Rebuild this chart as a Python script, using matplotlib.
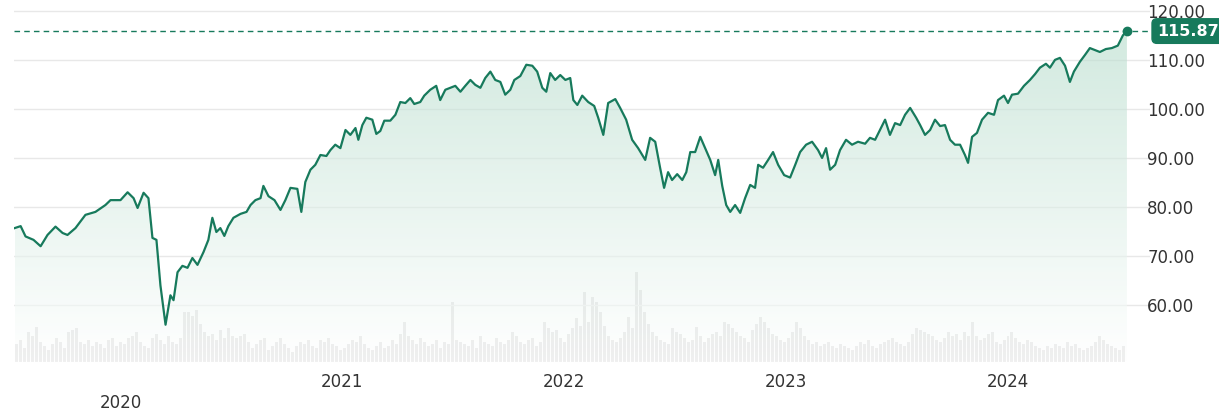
import matplotlib
matplotlib.use("Agg")
import matplotlib.pyplot as plt
import numpy as np
from matplotlib.patches import Polygon
from matplotlib.colors import LinearSegmentedColormap

px = [14,20,25,33,40,47,55,62,67,75,85,95,105,110,120,127,133,137,143,148,152,156,160,165,170,173,177,182,187,192,197,203,208,212,216,220,224,228,233,240,246,250,255,260,263,268,274,280,285,290,297,301,305,310,315,320,326,330,335,340,345,350,355,358,362,366,372,376,380,384,390,395,400,405,410,414,420,424,430,436,440,445,450,455,460,465,470,475,480,485,490,495,500,505,510,514,520,526,532,537,542,546,550,555,560,565,570,573,577,582,588,594,598,603,608,615,620,626,632,638,645,650,655,660,664,668,672,677,682,686,690,695,700,705,710,715,718,722,726,730,735,740,745,750,755,758,763,768,773,778,784,790,795,800,806,812,818,822,826,830,835,840,846,852,858,865,870,875,880,885,890,895,900,905,910,916,920,925,930,935,940,945,950,955,960,965,968,972,977,982,988,994,998,1004,1008,1012,1018,1024,1030,1035,1040,1046,1050,1055,1060,1065,1070,1074,1080,1085,1090,1095,1100,1106,1112,1118,1123,1127]
prices = [75.7,76.1,74,73.3,72,74.3,76,74.7,74.3,75.7,78.4,79,80.4,81.4,81.4,83,81.8,79.8,82.9,81.8,73.7,73.3,64,56,62,61,66.7,68,67.6,69.6,68.2,70.8,73.3,77.8,74.9,75.7,74.1,76.1,77.8,78.6,79,80.4,81.4,81.8,84.3,82.2,81.4,79.4,81.4,83.9,83.7,79,85.1,87.6,88.6,90.6,90.4,91.6,92.7,92,95.7,94.7,96.1,93.7,96.7,98.2,97.8,94.9,95.5,97.6,97.6,98.8,101.4,101.2,102.2,101,101.4,102.7,103.9,104.7,101.8,103.9,104.3,104.7,103.5,104.7,105.9,104.9,104.3,106.3,107.6,105.9,105.5,102.9,103.9,105.9,106.7,109,108.8,107.6,104.3,103.5,107.3,105.9,106.9,105.9,106.3,101.8,100.8,102.7,101.4,100.6,98.2,94.7,101.2,102,100.2,97.8,93.7,92,89.6,94.1,93.3,88,83.9,87.1,85.5,86.7,85.5,87.1,91.2,91.2,94.3,92,89.6,86.5,89.6,84.3,80.4,79,80.4,78.8,81.8,84.5,83.9,88.6,88,89.6,91.2,88.6,86.5,86,88.6,91.2,92.7,93.3,91.6,90,92,87.6,88.6,91.6,93.7,92.7,93.3,92.9,94.1,93.7,95.7,97.8,94.7,97.1,96.7,98.8,100.2,98.2,96.7,94.7,95.7,97.8,96.5,96.7,93.7,92.7,92.7,90.6,89,94.3,95.1,97.8,99.2,98.8,101.8,102.7,101.2,102.9,103.1,104.7,105.9,107.1,108.4,109.2,108.4,110,110.4,108.8,105.5,107.6,109.6,111,112.4,112,111.6,112.2,112.4,112.9,115,115.87]
years = [round(2021 + (x - 342) / 222, 3) for x in px]

vol_x = list(range(16, 1126, 4))
vol_base = [18,22,14,30,26,35,20,16,12,18,24,20,14,30,32,34,20,18,22,16,20,18,14,22,24,16,20,18,24,26,30,20,16,14,24,28,22,18,26,20,
            18,24,50,50,46,52,38,30,26,28,22,32,24,34,26,24,26,28,20,14,18,22,24,12,16,20,24,18,14,10,16,20,18,22,16,14,22,20,24,18,
            16,12,14,18,22,20,26,18,14,12,16,20,14,16,22,18,28,40,26,22,18,24,20,16,18,22,14,20,18,60,22,20,18,16,22,14,26,20,18,16,
            24,20,18,22,30,26,20,18,22,24,16,20,40,34,30,32,24,20,28,34,44,36,70,40,65,60,50,36,26,22,20,24,30,45,34,90,72,50,38,30,
            26,22,20,18,34,30,28,24,20,22,35,26,20,24,28,30,26,40,38,34,30,26,24,20,32,38,45,40,34,28,26,22,20,24,30,40,34,26,22,18,
            20,16,18,20,16,14,18,16,14,12,16,20,18,22,16,14,18,20,22,24,20,18,16,20,28,34,32,30,28,26,22,20,24,30,26,28,22,30,26,40,
            26,22,24,28,30,20,18,22,26,30,24,20,18,22,20,16,14,12,16,14,18,16,14,20,16,18,14,12,14,16,20,26,22,18,16,14,12,16,
            18,14,12,16,18,22,14,10]
volumes = vol_base[:len(vol_x)]
vol_x = vol_x[:len(volumes)]
vol_years = [2021 + (x - 342) / 222 for x in vol_x]

W, H = 1219, 412
fig = plt.figure(figsize=(W/100, H/100), dpi=100)
ax = fig.add_axes([14/W, 1 - 362/H, 1136/W, 362/H])
green = '#177a5c'
ax.set_xlim(2019.52, 2024.64)
ax.set_ylim(48.4, 122.2)
for v in range(60, 121, 10):
    ax.axhline(v, color='#e8e8e8', lw=1, zorder=0)

axv = ax.twinx()
axv.set_ylim(0, max(volumes) * 362 / 90)
axv.bar(vol_years, volumes, width=3/222, color='#dadada', zorder=1)
axv.set_yticks([])
for s in axv.spines.values(): s.set_visible(False)

ax.set_zorder(axv.get_zorder() + 1)
ax.patch.set_visible(False)

cmap = LinearSegmentedColormap.from_list('g', ['#ffffff', '#b5dccb'])
im = ax.imshow(np.linspace(1, 0, 256).reshape(-1, 1), aspect='auto', cmap=cmap,
               extent=[years[0], years[-1], 48.4, max(prices)], origin='upper', alpha=0.6, zorder=1)
poly = Polygon(list(zip(years, prices)) + [(years[-1], 48.4), (years[0], 48.4)], closed=True, transform=ax.transData)
im.set_clip_path(poly)

ax.plot(years, prices, color=green, lw=1.6, zorder=3)
last = prices[-1]
ax.axhline(last, color=green, lw=1, ls=(0, (4, 3)), zorder=2)
ax.plot(years[-1], last, 'o', color=green, ms=6, zorder=4)

ax.set_yticks(range(60, 121, 10))
ax.yaxis.tick_right()
ax.set_yticklabels([f"{v:.2f}" for v in range(60, 121, 10)], fontsize=12, color='#333333')
ax.tick_params(axis='y', length=0, pad=-2)
ax.set_xticks([2020, 2021, 2022, 2023, 2024])
ax.set_xticklabels(['\n2020', '2021', '2022', '2023', '2024'], fontsize=12, color='#333333', linespacing=1.2)
ax.tick_params(axis='x', length=0, pad=8)
for s in ax.spines.values(): s.set_visible(False)

ax.text(1.006, last, f"{last:.2f}", transform=ax.get_yaxis_transform(), va='center', ha='left',
        fontsize=11.5, color='white', fontweight='bold', zorder=5,
        bbox=dict(boxstyle='round,pad=0.3', fc=green, ec=green))

fig.savefig('out.png', dpi=100)
